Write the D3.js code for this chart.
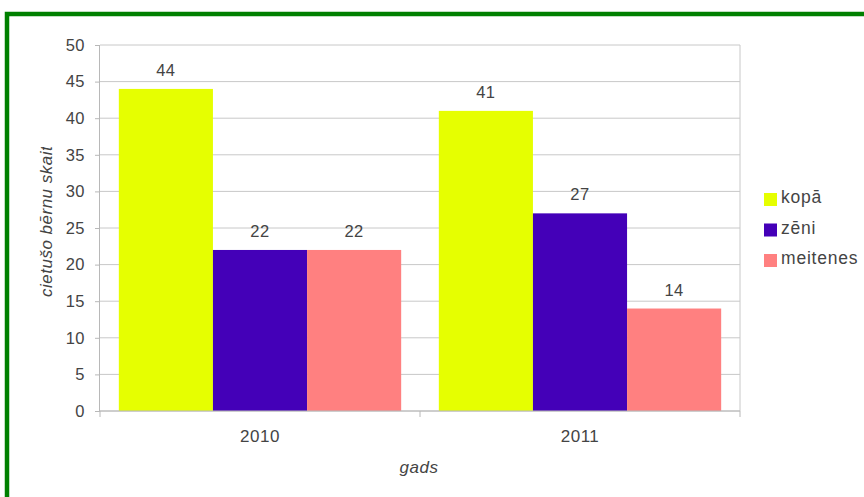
<!DOCTYPE html>
<html><head><meta charset="utf-8">
<script src="https://cdn.jsdelivr.net/npm/d3@7"></script>
<style>body{margin:0;background:#fff}svg{display:block;font-family:"Liberation Sans",Arial,sans-serif}</style>
</head><body><svg id="c" width="864" height="497"></svg>
<script>
const categories = ["2010", "2011"];
const seriesNames = ["kopā", "zēni", "meitenes"];
const kopa = [44, 41];
const zeni = [22, 27];
const meitenes = [22, 14];
const yTicks = [0, 5, 10, 15, 20, 25, 30, 35, 40, 45, 50];
const colors = ["#e6ff00", "#4400b8", "#ff8080"];
const seriesValues = [kopa, zeni, meitenes];

const FS = 16.5, LS = "0.5px", TXT = "#444";
const svg = d3.select("#c");
// green frame
svg.append("rect").attr("x", 7).attr("y", 14).attr("width", 880).attr("height", 500)
  .attr("fill", "none").attr("stroke", "#008000").attr("stroke-width", 4.5);

const L = 100, R = 740, T = 45, B = 411;
const x = d3.scaleBand().domain(categories).range([L, R]).paddingInner(0).paddingOuter(0);
const xs = d3.scaleBand().domain(seriesNames).range([0, x.bandwidth()]).paddingInner(0).paddingOuter(0.2);
const y = d3.scaleLinear().domain([0, 50]).range([B, T]);

// gridlines
svg.append("g").selectAll("line").data(yTicks).join("line")
  .attr("x1", L).attr("x2", R).attr("y1", d => y(d)).attr("y2", d => y(d))
  .attr("stroke", "#c8c8c8").attr("stroke-width", 1);
// right border
svg.append("line").attr("x1", R).attr("x2", R).attr("y1", T).attr("y2", B)
  .attr("stroke", "#c8c8c8");

// bars
const g = svg.append("g");
categories.forEach((c, ci) => {
  seriesNames.forEach((s, si) => {
    const v = seriesValues[si][ci];
    g.append("rect").attr("x", x(c) + xs(s)).attr("width", xs.bandwidth())
      .attr("y", y(v)).attr("height", y(0) - y(v)).attr("fill", colors[si]);
    g.append("text").attr("x", x(c) + xs(s) + xs.bandwidth() / 2).attr("y", y(v) - 13)
      .attr("text-anchor", "middle").attr("font-size", FS).attr("letter-spacing", LS)
      .attr("fill", TXT).text(v);
  });
});

// y axis
const ya = svg.append("g").attr("transform", `translate(${L},0)`)
  .call(d3.axisLeft(y).tickValues(yTicks).tickSize(5).tickPadding(10));
ya.select(".domain").attr("stroke", "#b8b8b8").attr("d", `M-0.5,${T}V${B}`);
ya.selectAll(".tick line").attr("stroke", "#b8b8b8");
ya.selectAll("text").attr("font-size", FS).attr("letter-spacing", LS).attr("fill", TXT)
  .attr("font-family", "Liberation Sans, Arial, sans-serif");

// x axis
const xa = svg.append("g").attr("transform", `translate(0,${B})`)
  .call(d3.axisBottom(x).tickSize(0).tickPadding(19));
xa.select(".domain").attr("stroke", "#b8b8b8").attr("d", `M${L},0H${R}`);
xa.selectAll("text").attr("font-size", 17).attr("letter-spacing", LS).attr("fill", TXT)
  .attr("font-family", "Liberation Sans, Arial, sans-serif");
svg.append("g").selectAll("line").data([L, x(categories[1]), R]).join("line")
  .attr("x1", d => d).attr("x2", d => d).attr("y1", B).attr("y2", B + 6).attr("stroke", "#b8b8b8");

// axis titles
svg.append("text").attr("x", 419).attr("y", 473).attr("text-anchor", "middle")
  .attr("font-size", 17).attr("letter-spacing", LS).attr("font-style", "italic").attr("fill", TXT).text("gads");
svg.append("clipPath").attr("id", "yc").append("rect").attr("x", 0).attr("y", 147).attr("width", 80).attr("height", 200);
svg.append("g").attr("clip-path", "url(#yc)").append("text")
  .attr("transform", "translate(52,297) rotate(-90)").attr("text-anchor", "start")
  .attr("font-size", 17).attr("letter-spacing", LS).attr("font-style", "italic").attr("fill", TXT)
  .text("cietušo bērnu skaits");

// legend
const lg = svg.append("g");
seriesNames.forEach((s, i) => {
  const yy = 193 + i * 30.5;
  lg.append("rect").attr("x", 764).attr("y", yy).attr("width", 13).attr("height", 13).attr("fill", colors[i]);
  lg.append("text").attr("x", 781).attr("y", yy + 10).attr("font-size", 17.5).attr("letter-spacing", "0.8px")
    .attr("fill", TXT).text(s);
});
</script></body></html>
